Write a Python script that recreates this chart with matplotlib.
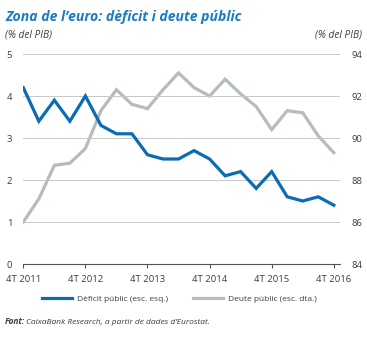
import numpy as np
import matplotlib.pyplot as plt
from matplotlib.lines import Line2D

# Quarterly series, 4T 2011 .. 4T 2016
deficit = [4.2, 3.4, 3.9, 3.4, 4.0, 3.3, 3.1, 3.1, 2.6, 2.5, 2.5,
           2.7, 2.5, 2.1, 2.2, 1.8, 2.2, 1.6, 1.5, 1.6, 1.4]
deute = [86.0, 87.1, 88.7, 88.8, 89.5, 91.3, 92.3, 91.6, 91.4, 92.3, 93.1,
         92.4, 92.0, 92.8, 92.1, 91.5, 90.4, 91.3, 91.2, 90.1, 89.3]
tick_labels = ['4T 2011', '4T 2012', '4T 2013', '4T 2014', '4T 2015', '4T 2016']

blau = '#0a6db3'
gris = '#b4bcbf'
text_col = '#3c3c3c'

plt.rcParams['font.family'] = ['Open Sans', 'DejaVu Sans']

W, H = 367, 338
fig = plt.figure(figsize=(W / 100, H / 100), dpi=100)
ax = fig.add_axes([23.3 / W, (H - 264) / H, 316.7 / W, 210 / H])
ax2 = ax.twinx()

x = np.arange(len(deficit))
ax.plot(x, deficit, color=blau, lw=2.3, solid_joinstyle='miter', zorder=3)
ax2.plot(x, deute, color=gris, lw=2.3, solid_joinstyle='miter', zorder=2)

ax.set_zorder(ax2.get_zorder() + 1)
ax.patch.set_visible(False)

ax.set_xlim(0, 20.4)
ax.set_ylim(0, 5)
ax2.set_ylim(84, 94)
ax.set_yticks(range(0, 6))
ax2.set_yticks(range(84, 95, 2))
ax.set_xticks(range(0, 21, 4))
ax.set_xticklabels(tick_labels)

for y in range(1, 6):
    ax.axhline(y, color='#c8c8c8', lw=0.7, zorder=0)

for a in (ax, ax2):
    for s in a.spines.values():
        s.set_visible(False)
ax.spines['bottom'].set_visible(True)
ax.spines['bottom'].set_color('#555555')
ax.spines['bottom'].set_linewidth(0.8)

ax.tick_params(axis='y', length=0, pad=8, labelsize=6.8, labelcolor=text_col)
ax2.tick_params(axis='y', length=0, pad=8, labelsize=6.8, labelcolor=text_col)
ax.tick_params(axis='x', length=3, width=0.8, color='#555555', pad=5,
               labelsize=6.8, labelcolor=text_col)

fig.text(5 / W, 1 - 17 / H, 'Zona de l\u2019euro: dèficit i deute públic', color='#1a7cc1',
         fontsize=10.1, fontweight='bold', style='italic', va='center', ha='left')
fig.text(5 / W, 1 - 35 / H, '(% del PIB)', color=text_col, fontsize=7.3,
         style='italic', va='center', ha='left')
fig.text(362 / W, 1 - 35 / H, '(% del PIB)', color=text_col, fontsize=7.3,
         style='italic', va='center', ha='right')

handles = [Line2D([], [], color=blau, lw=2.3), Line2D([], [], color=gris, lw=2.3)]
fig.legend(handles, ['Dèficit públic (esc. esq.)', 'Deute públic (esc. dta.)'],
           loc='center', bbox_to_anchor=(0.49, 1 - 299 / H), ncol=2, frameon=False,
           fontsize=6.0, handlelength=3.5, handletextpad=0.7, columnspacing=3.0,
           labelcolor=text_col)

fig.text(5 / W, 1 - 322 / H, 'Font:', color=text_col, fontsize=6,
         style='italic', fontweight='bold', va='center', ha='left')
fig.text(26 / W, 1 - 322 / H, 'CaixaBank Research, a partir de dades d\u2019Eurostat.',
         color=text_col, fontsize=6, style='italic', va='center', ha='left')

fig.savefig('out.png', dpi=100)
